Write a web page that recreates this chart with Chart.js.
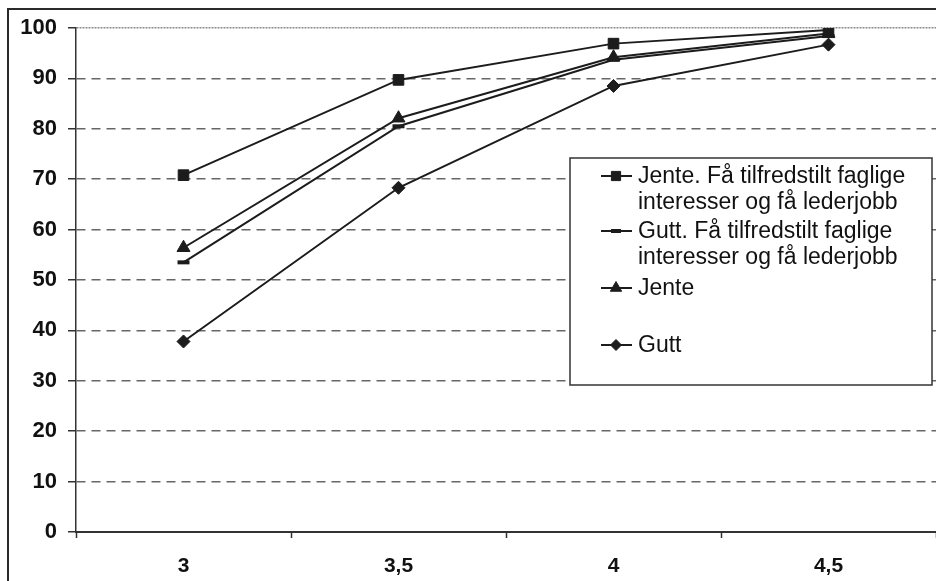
<!DOCTYPE html>
<html>
<head>
<meta charset="utf-8">
<script src="https://cdn.jsdelivr.net/npm/chart.js@4/dist/chart.umd.min.js"></script>
<style>
html,body{margin:0;padding:0;background:#fff;overflow:hidden;}
canvas{display:block;}
</style>
</head>
<body>
<canvas id="c" width="936" height="581"></canvas>
<script>
// ---- data ----
const categories = ["3", "3,5", "4", "4,5"];
const seriesNames = [
  ["Jente. Få tilfredstilt faglige", "interesser og få lederjobb"],
  ["Gutt. Få tilfredstilt faglige", "interesser og få lederjobb"],
  ["Jente"],
  ["Gutt"]
];
const jenteFaa = [70.8, 89.7, 96.9, 99.6];
const guttFaa  = [53.5, 80.5, 93.7, 98.4];
const jente    = [56.4, 82.1, 94.2, 98.9];
const gutt     = [37.8, 68.3, 88.5, 96.7];
const yTicks   = [0, 10, 20, 30, 40, 50, 60, 70, 80, 90, 100];

const ink = '#1c1c1c';
const markerStyles = [
  {pointStyle: 'rect', radius: 7.5, borderWidth: 1},
  {pointStyle: 'line', radius: 6, borderWidth: 4},
  {pointStyle: 'triangle', radius: 7.5, borderWidth: 1},
  {pointStyle: 'rectRot', radius: 6.5, borderWidth: 1}
];
const seriesValues = [jenteFaa, guttFaa, jente, gutt];

const datasets = seriesValues.map((vals, i) => ({
  label: seriesNames[i].join(' '),
  data: vals,
  borderColor: ink,
  backgroundColor: ink,
  borderWidth: 2,
  pointStyle: markerStyles[i].pointStyle,
  pointRadius: markerStyles[i].radius,
  pointBorderWidth: markerStyles[i].borderWidth,
  pointBackgroundColor: ink,
  pointBorderColor: ink,
  tension: 0
}));

const frameAndLegend = {
  id: 'frameAndLegend',
  beforeDraw(chart) {
    const ctx = chart.ctx;
    ctx.save();
    ctx.fillStyle = '#fff';
    ctx.fillRect(0, 0, chart.width, chart.height);
    ctx.restore();
  },
  afterDraw(chart) {
    const ctx = chart.ctx;
    ctx.save();
    // outer frame (extends past the right and bottom edges)
    ctx.strokeStyle = '#2a2a2a';
    ctx.lineWidth = 2;
    ctx.strokeRect(8, 9, chart.width + 20, chart.height + 20);

    // legend box
    const bx = 570, by = 158, bw = 362, bh = 227;
    ctx.fillStyle = '#fff';
    ctx.fillRect(bx, by, bw, bh);
    ctx.strokeStyle = '#333';
    ctx.lineWidth = 1.5;
    ctx.strokeRect(bx, by, bw, bh);

    const entryY = [176, 231, 288, 345];
    const lineH = 26;
    ctx.font = '23px "Liberation Sans", Arial, sans-serif';
    ctx.textBaseline = 'middle';
    ctx.textAlign = 'left';
    chart.data.datasets.forEach((ds, i) => {
      const y = entryY[i];
      ctx.strokeStyle = ink;
      ctx.lineWidth = 2;
      ctx.beginPath();
      ctx.moveTo(601, y);
      ctx.lineTo(632, y);
      ctx.stroke();
      const ms = markerStyles[i];
      ctx.fillStyle = ink;
      ctx.strokeStyle = ink;
      ctx.lineWidth = ms.borderWidth;
      Chart.helpers.drawPoint(ctx, {
        pointStyle: ms.pointStyle,
        radius: ms.pointStyle === 'line' ? 5 : ms.radius - 1,
        rotation: 0,
        borderWidth: ms.borderWidth
      }, 616, y);
      ctx.fillStyle = '#111';
      seriesNames[i].forEach((t, k) => {
        ctx.fillText(t, 638, y + 1 + k * lineH);
      });
    });
    ctx.restore();
  }
};

new Chart(document.getElementById('c'), {
  type: 'line',
  data: { labels: categories, datasets },
  options: {
    responsive: false,
    animation: false,
    layout: { autoPadding: false, padding: { top: 28, right: 0, bottom: 0, left: 0 } },
    plugins: { legend: { display: false }, tooltip: { enabled: false } },
    scales: {
      x: {
        offset: true,
        grid: {
          offset: true,
          drawOnChartArea: false,
          drawTicks: true,
          tickLength: 6,
          tickColor: '#333',
          tickWidth: 1.5
        },
        border: { display: true, color: '#333', width: 2 },
        ticks: {
          color: '#111',
          padding: 16,
          font: { family: '"Liberation Sans", Arial, sans-serif', size: 21, weight: 'bold' }
        },
        afterFit(scale) { scale.height = 49; scale.paddingLeft = 0; scale.paddingRight = 0; }
      },
      y: {
        min: 0,
        max: 100,
        afterBuildTicks(scale) { scale.ticks = yTicks.map(v => ({ value: v })); },
        grid: {
          color: c => (c.tick && c.tick.value === 0) ? 'rgba(0,0,0,0)' : (c.tick && c.tick.value === 100 ? '#8a8a8a' : '#666'),
          lineWidth: 1.5,
          tickLength: 8,
          tickColor: '#333',
          tickWidth: 1.5
        },
        border: {
          display: true, color: '#333', width: 1.5,
          dash: c => (c.tick && c.tick.value === 100) ? [2, 1] : [9, 6]
        },
        ticks: {
          color: '#111',
          padding: 11,
          font: { family: '"Liberation Sans", Arial, sans-serif', size: 22, weight: 'bold' }
        },
        afterFit(scale) { scale.width = 76; scale.paddingTop = 0; scale.paddingBottom = 0; }
      }
    }
  },
  plugins: [frameAndLegend]
});
</script>
</body>
</html>
